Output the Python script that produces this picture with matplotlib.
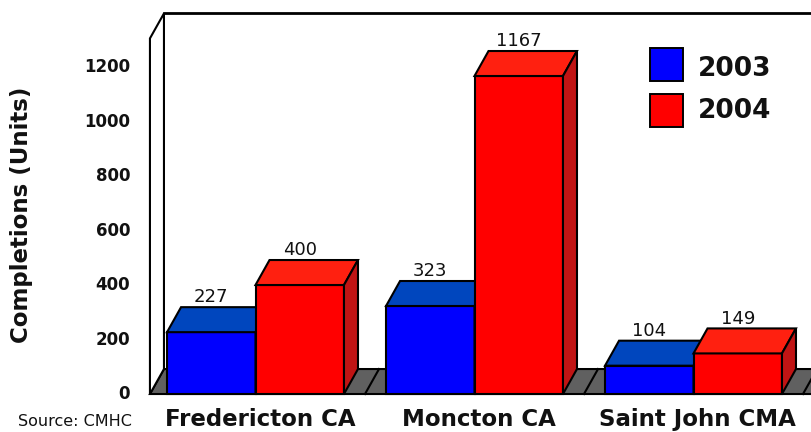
import matplotlib
matplotlib.use("Agg")
import matplotlib.pyplot as plt
from matplotlib.patches import Polygon, Rectangle

# data
categories = ['Fredericton CA', 'Moncton CA', 'Saint John CMA']
years = ['2003', '2004']
units_2003 = [227, 323, 104]
units_2004 = [400, 1167, 149]
tick_values = [0, 200, 400, 600, 800, 1000, 1200]

# colours: front, top, side
blue = ('#0000FF', '#0046BE', '#00008B')
red = ('#FF0000', '#FF2010', '#C01414')

# pseudo 3d layout (data units)
BAR_W = 0.404      # width of one bar
DX = 0.064         # depth offset in x
DY = 91.7          # depth offset in y (value units)
X_LEFT = -0.482
X_RIGHT = 2.70
WALL_TOP = 1305
LW = 1.5

fig = plt.figure(figsize=(8.12, 4.32), dpi=100)
ax = fig.add_axes([0, 0, 1, 1])
ax.set_xlim(-1.1667, 2.5411)
ax.set_ylim(-139.4, 1445.9)
ax.axis('off')

# floor
ax.add_patch(Polygon([(X_LEFT, 0), (X_LEFT + DX, DY), (X_RIGHT + DX, DY), (X_RIGHT, 0)],
                     closed=True, facecolor='#606060', edgecolor='black', lw=LW, zorder=1))
for b in [0.5, 1.5, 2.5]:
    ax.plot([b, b + DX], [0, DY], color='black', lw=LW, zorder=1.5)

# left side wall and back wall top edge
ax.add_patch(Polygon([(X_LEFT, 0), (X_LEFT, WALL_TOP), (X_LEFT + DX, WALL_TOP + DY), (X_LEFT + DX, DY)],
                     closed=True, facecolor='white', edgecolor='black', lw=LW, zorder=1))
ax.plot([X_LEFT + DX, X_RIGHT + DX], [WALL_TOP + DY, WALL_TOP + DY], color='black', lw=2, zorder=1)


def bar3d(x0, v, cols, z):
    # front face through the normal bar call
    ax.bar(x0, v, width=BAR_W, align='edge', color=cols[0], edgecolor='black', lw=LW, zorder=z)
    x1 = x0 + BAR_W
    ax.add_patch(Polygon([(x0, v), (x0 + DX, v + DY), (x1 + DX, v + DY), (x1, v)],
                         closed=True, facecolor=cols[1], edgecolor='black', lw=LW, zorder=z))
    ax.add_patch(Polygon([(x1, 0), (x1, v), (x1 + DX, v + DY), (x1 + DX, DY)],
                         closed=True, facecolor=cols[2], edgecolor='black', lw=LW, zorder=z))
    ax.text(x0 + BAR_W / 2, v + DY + 18, str(v), ha='center', va='baseline',
            fontsize=13, color='#111111', zorder=10)


for i in range(len(categories)):
    bar3d(i - BAR_W, units_2003[i], blue, 2 + i)
    bar3d(i, units_2004[i], red, 2.5 + i)
    ax.text(i + 0.02, -95, categories[i], ha='center', va='center',
            fontsize=16.5, fontweight='bold', color='#111111')

# value axis labels
for t in tick_values:
    ax.text(-0.573, t, str(t), ha='right', va='center', fontsize=12,
            fontweight='bold', color='#111111')

fig.text(22 / 812, 1 - 215 / 432, 'Completions (Units)', rotation=90, ha='center',
         va='center', fontsize=16.5, fontweight='bold', color='#111111')
fig.text(18 / 812, 1 - 422 / 432, 'Source: CMHC', ha='left', va='center',
         fontsize=11.5, color='#111111')

# legend
for yr, col, yb, yc in [(years[0], blue[0], 81, 68.5), (years[1], red[0], 127, 111)]:
    fig.patches.append(Rectangle((650 / 812, 1 - yb / 432), 33 / 812, 33 / 432,
                                 transform=fig.transFigure, facecolor=col,
                                 edgecolor='black', lw=1.4))
    fig.text(698 / 812, 1 - yc / 432, yr, ha='left', va='center', fontsize=19,
             fontweight='bold', color='#111111')

fig.savefig('out.png', dpi=100)
